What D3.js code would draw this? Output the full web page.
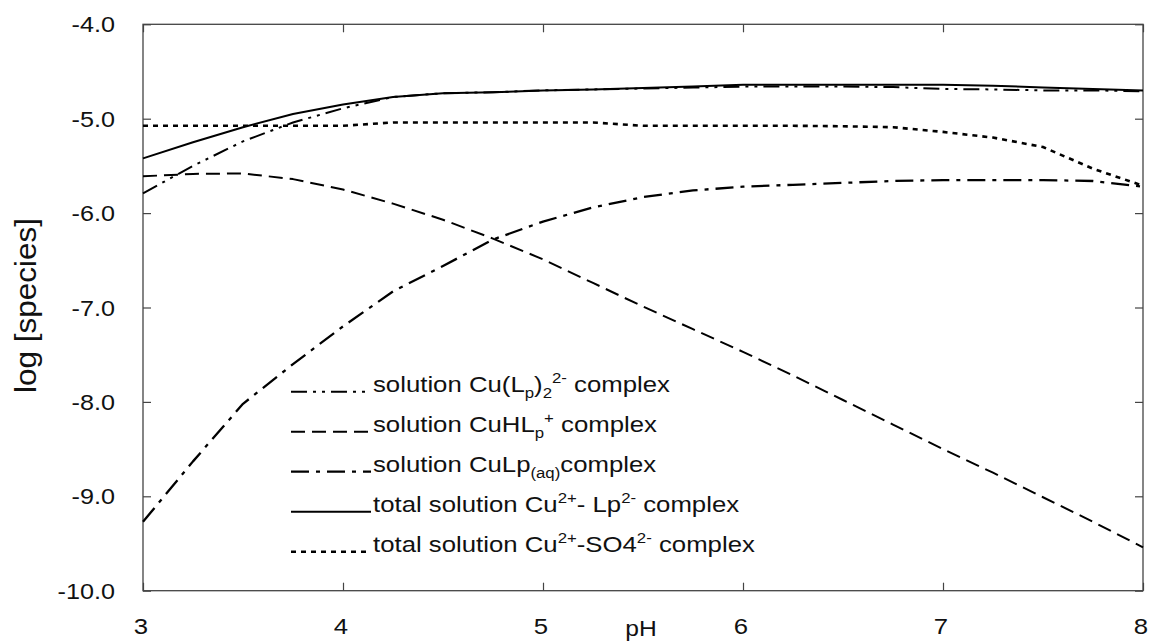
<!DOCTYPE html>
<html>
<head>
<meta charset="utf-8">
<script src="https://cdn.jsdelivr.net/npm/d3@7"></script>
<style>
  html, body { margin: 0; padding: 0; background: #fff; }
  svg { display: block; font-family: "Liberation Sans", Arial, sans-serif; }
</style>
</head>
<body>
<svg id="chart" width="1149" height="642"></svg>
<script>
// pH grid shared by all species
const pH = [3, 3.25, 3.5, 3.75, 4, 4.25, 4.5, 4.75, 5, 5.25, 5.5, 5.75, 6, 6.25, 6.5, 6.75, 7, 7.25, 7.5, 7.75, 8];

// log concentrations of each species
const cuLp2 = [-5.79, -5.50, -5.24, -5.04, -4.89, -4.77, -4.73, -4.72, -4.70, -4.69, -4.68, -4.67, -4.66, -4.66, -4.66, -4.665, -4.685, -4.69, -4.70, -4.70, -4.71];
const cuHLp = [-5.61, -5.585, -5.58, -5.64, -5.75, -5.90, -6.07, -6.27, -6.49, -6.74, -6.99, -7.23, -7.47, -7.72, -7.98, -8.24, -8.50, -8.75, -9.01, -9.27, -9.54];
const cuLpAq = [-9.27, -8.63, -8.02, -7.60, -7.20, -6.83, -6.56, -6.28, -6.09, -5.94, -5.83, -5.76, -5.72, -5.70, -5.68, -5.66, -5.65, -5.65, -5.65, -5.66, -5.72];
const totalLp = [-5.42, -5.25, -5.09, -4.95, -4.85, -4.77, -4.73, -4.72, -4.70, -4.69, -4.675, -4.66, -4.64, -4.64, -4.64, -4.64, -4.64, -4.65, -4.67, -4.685, -4.70];
const totalSO4 = [-5.075, -5.075, -5.075, -5.075, -5.075, -5.04, -5.04, -5.04, -5.04, -5.04, -5.075, -5.075, -5.075, -5.075, -5.08, -5.09, -5.14, -5.20, -5.30, -5.53, -5.71];

const xTicks = [3, 4, 5, 6, 7, 8];
const yTicks = [-4, -5, -6, -7, -8, -9, -10];

const svg = d3.select("#chart");
const plotLeft = 143, plotRight = 1143, plotTop = 24.3, plotBottom = 590.7;
const textWiden = 1.12; // horizontal stretch of the lettering

const x = d3.scaleLinear().domain([3, 8]).range([plotLeft, plotRight]);
const y = d3.scaleLinear().domain([-10, -4]).range([plotBottom, plotTop]);

const series = [
  { values: cuLp2,   dash: "16,6,3,6,3,6", width: 2 },
  { values: cuHLp,   dash: "14,7",          width: 2 },
  { values: cuLpAq,  dash: "18,7,4,7",      width: 2.3 },
  { values: totalLp, dash: null,            width: 2 },
  { values: totalSO4, dash: "5,5",          width: 2.6 }
];

// axes: ticks point inward on all four sides
const tickLen = 8;
const axisColor = "#444";
function styleAxis(g) {
  g.select(".domain").remove();
  g.selectAll(".tick line").attr("stroke", axisColor).attr("stroke-width", 1.2);
}
svg.append("g").attr("transform", `translate(0,${plotBottom})`)
  .call(d3.axisBottom(x).tickValues(xTicks).tickSize(-tickLen).tickFormat(""))
  .call(styleAxis);
svg.append("g").attr("transform", `translate(0,${plotTop})`)
  .call(d3.axisTop(x).tickValues(xTicks).tickSize(-tickLen).tickFormat(""))
  .call(styleAxis);
svg.append("g").attr("transform", `translate(${plotLeft},0)`)
  .call(d3.axisLeft(y).tickValues(yTicks).tickSize(-tickLen).tickFormat(""))
  .call(styleAxis);
svg.append("g").attr("transform", `translate(${plotRight},0)`)
  .call(d3.axisRight(y).tickValues(yTicks).tickSize(-tickLen).tickFormat(""))
  .call(styleAxis);

// frame
svg.append("rect")
  .attr("x", plotLeft).attr("y", plotTop)
  .attr("width", plotRight - plotLeft).attr("height", plotBottom - plotTop)
  .attr("fill", "none").attr("stroke", axisColor).attr("stroke-width", 1.3);

// tick labels
svg.append("g").selectAll("text").data(yTicks).join("text")
  .attr("transform", d => `translate(115,${y(d)}) scale(${textWiden},1)`)
  .attr("dy", "0.36em")
  .attr("text-anchor", "end").attr("font-size", 22.5).attr("fill", "#111")
  .text(d => d3.format(".1f")(d).replace("−", "-"));
svg.append("g").selectAll("text").data(xTicks).join("text")
  .attr("transform", d => `translate(${x(d) - 2},634) scale(${textWiden},1)`)
  .attr("text-anchor", "middle").attr("font-size", 23).attr("fill", "#111")
  .text(d => d);

// axis titles
svg.append("text")
  .attr("transform", `translate(641,636) scale(${textWiden},1)`)
  .attr("text-anchor", "middle").attr("font-size", 22).attr("fill", "#111").text("pH");
svg.append("text")
  .attr("transform", `translate(36,305.5) rotate(-90)`)
  .attr("text-anchor", "middle").attr("font-size", 30).attr("fill", "#111")
  .attr("textLength", 175).attr("lengthAdjust", "spacingAndGlyphs")
  .text("log [species]");

// curves
const line = d3.line().x((d, i) => x(pH[i])).y(d => y(d));
svg.append("g").selectAll("path").data(series).join("path")
  .attr("d", d => line(d.values))
  .attr("fill", "none").attr("stroke", "#000")
  .attr("stroke-width", d => d.width)
  .attr("stroke-dasharray", d => d.dash)
  .attr("stroke-linejoin", "round");

// legend
const legendRows = [
  [["solution Cu(L"], ["p", "sub"], [")"], ["2", "sub"], ["2-", "sup"], [" complex"]],
  [["solution CuHL"], ["p", "sub"], ["+", "sup"], [" complex"]],
  [["solution CuLp"], ["(aq)", "sub"], ["complex"]],
  [["total solution Cu"], ["2+", "sup"], ["- Lp"], ["2-", "sup"], [" complex"]],
  [["total solution Cu"], ["2+", "sup"], ["-SO4"], ["2-", "sup"], [" complex"]]
];
const legendY = [391.7, 431.7, 471.7, 511.7, 551.7];
const lg = svg.append("g");
series.forEach((s, i) => {
  lg.append("line")
    .attr("x1", 291).attr("x2", i === 0 ? 366 : 371)
    .attr("y1", legendY[i]).attr("y2", legendY[i])
    .attr("stroke", "#000").attr("stroke-width", s.width)
    .attr("stroke-dasharray", s.dash);
  const t = lg.append("text")
    .attr("transform", `translate(373,${legendY[i]}) scale(${textWiden},1)`)
    .attr("dy", "0.36em")
    .attr("font-size", 23).attr("fill", "#111");
  let shift = 0;
  legendRows[i].forEach(([str, kind]) => {
    const target = kind === "sub" ? 6 : kind === "sup" ? -9 : 0;
    t.append("tspan")
      .attr("dy", target - shift)
      .attr("font-size", kind ? 15 : 23)
      .text(str);
    shift = target;
  });
});
</script>
</body>
</html>
